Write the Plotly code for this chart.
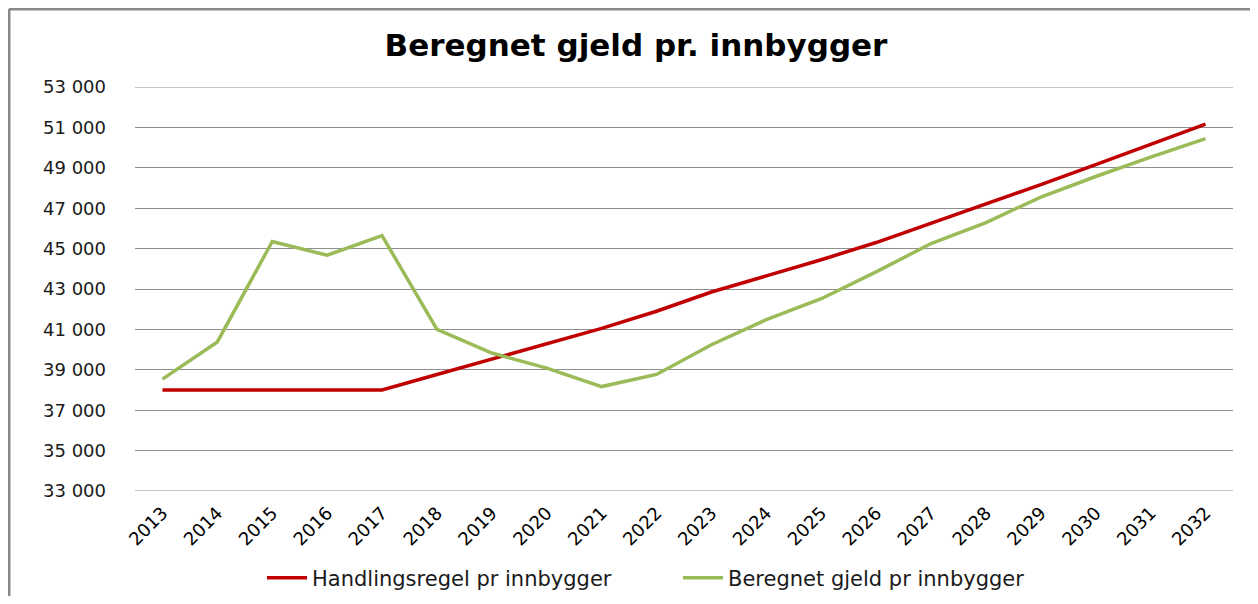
import plotly.graph_objects as go

years = [str(y) for y in range(2013, 2033)]
handlingsregel = [38000, 38000, 38000, 38000, 38000, 38770, 39530, 40290, 41050, 41900,
                  42850, 43650, 44450, 45300, 46250, 47200, 48170, 49160, 50160, 51160]
beregnet_gjeld = [38540, 40380, 45350, 44670, 45640, 41000, 39830, 39080, 38170, 38770,
                  40240, 41480, 42520, 43850, 45250, 46290, 47550, 48570, 49530, 50440]
y_ticks = list(range(33000, 53001, 2000))

fig = go.Figure()
fig.add_trace(go.Scatter(x=years, y=handlingsregel, mode="lines",
                         name="Handlingsregel pr innbygger", legend="legend",
                         line=dict(color="#C00000", width=3.5)))
fig.add_trace(go.Scatter(x=years, y=beregnet_gjeld, mode="lines",
                         name="Beregnet gjeld pr innbygger", legend="legend2",
                         line=dict(color="#9BBB59", width=3.5)))

OFF = 8  # page body margin (all sides)
W, H = 1258 - 2 * OFF, 604 - 2 * OFF
# plot area in screen pixels: x 135..1233, y 87..491
L, T = 135 - OFF, 87 - OFF
R = W - (1233 - OFF)
B = H - (491 - OFF)
pw, ph = W - L - R, H - T - B

def px(x):  # x in screen pixels -> paper
    return (x - OFF - L) / pw

def py(y):  # y in screen pixels -> paper
    return (H - B - (y - OFF)) / ph

def cx(x):  # screen -> container fraction
    return (x - OFF) / W

def cy(y):
    return 1 - (y - OFF) / H

legend_font = dict(family="DejaVu Sans", size=21, color="#1a1a1a")

fig.update_layout(
    width=W, height=H,
    margin=dict(l=L, r=R, t=T, b=B, autoexpand=False),
    paper_bgcolor="white", plot_bgcolor="white",
    separators=", ",
    font=dict(family="DejaVu Sans", size=16, color="#000000"),
    title=dict(text="<b>Beregnet gjeld pr. innbygger</b>", x=cx(636),
               xref="container", xanchor="center", y=cy(45),
               yanchor="middle",
               font=dict(family="DejaVu Sans", size=31, color="#000000")),
    xaxis=dict(type="category", range=[-0.5, 19.5], tickangle=-45,
               showgrid=False, showline=False, ticks="", zeroline=False,
               automargin=False, ticklabelstandoff=7,
               tickfont=dict(size=18, color="#000000")),
    yaxis=dict(range=[33000, 53000], tickvals=y_ticks, tickformat=",d",
               showgrid=True, gridcolor="#8E8E8E", gridwidth=1,
               zeroline=False, showline=False, ticks="", automargin=False,
               ticklabelstandoff=28,
               tickfont=dict(size=18, color="#1a1a1a")),
    legend=dict(orientation="h", xref="container", yref="container",
                x=cx(262), xanchor="left", y=cy(578),
                yanchor="middle", font=legend_font, itemwidth=40,
                bgcolor="rgba(0,0,0,0)"),
    legend2=dict(orientation="h", xref="container", yref="container",
                 x=cx(678), xanchor="left", y=cy(578),
                 yanchor="middle", font=legend_font, itemwidth=40,
                 bgcolor="rgba(0,0,0,0)"),
    showlegend=True,
)

# gridlines at the axis range edges
for v in (33000, 53000):
    fig.add_shape(type="line", xref="paper", yref="y", x0=0, x1=1, y0=v, y1=v,
                  line=dict(color="#8E8E8E", width=1), layer="below")

# outer chart frame (left and top edges visible)
fig.add_shape(type="line", xref="paper", yref="paper",
              x0=px(9), x1=px(1262), y0=py(9), y1=py(9),
              line=dict(color="#888888", width=3))
fig.add_shape(type="line", xref="paper", yref="paper",
              x0=px(9), x1=px(9), y0=py(9), y1=py(610),
              line=dict(color="#888888", width=3))

fig.write_html("out.html")
